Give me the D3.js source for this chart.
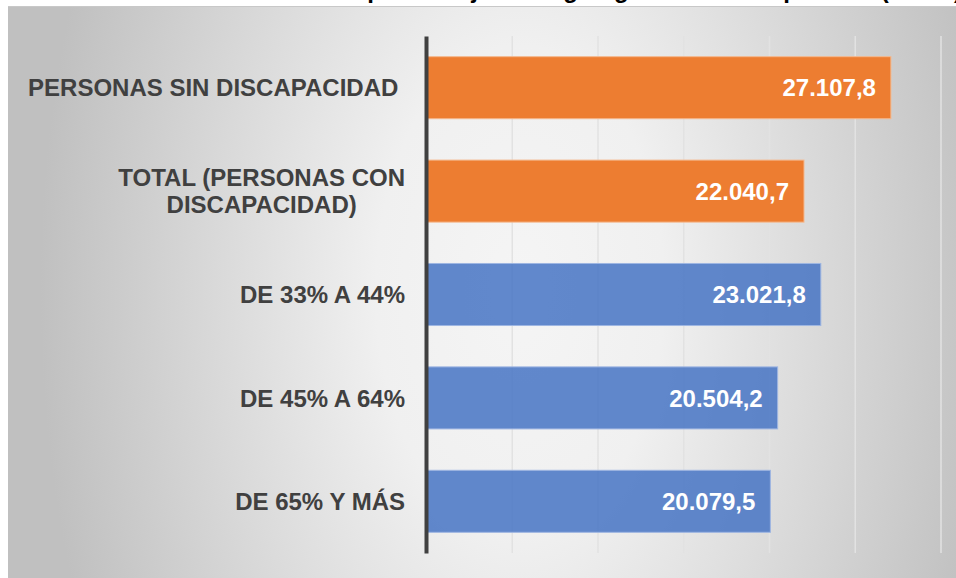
<!DOCTYPE html>
<html>
<head>
<meta charset="utf-8">
<script src="https://cdn.jsdelivr.net/npm/d3@7"></script>
<style>
  body { margin: 0; background: #fff; }
  svg { display: block; font-family: "Liberation Sans", Arial, sans-serif; }
</style>
</head>
<body>
<script>
const categories = ['PERSONAS SIN DISCAPACIDAD ', 'TOTAL (PERSONAS CON DISCAPACIDAD)',
                    'DE 33% A 44%', 'DE 45% A 64%', 'DE 65% Y MÁS'];
const labelLines = [['PERSONAS SIN DISCAPACIDAD '], ['TOTAL (PERSONAS CON', 'DISCAPACIDAD)'],
                    ['DE 33% A 44%'], ['DE 45% A 64%'], ['DE 65% Y MÁS']];
const values = [27107.8, 22040.7, 23021.8, 20504.2, 20079.5];
const groups = ['resumen', 'resumen', 'grado', 'grado', 'grado'];
const xTicks = [5000, 10000, 15000, 20000, 25000, 30000];
const title = 'Ganancia media anual por trabajador según grado de discapacidad (euros)';

const WIDTH = 956, HEIGHT = 578;
const TOP = 36, BOTTOM = 553, LEFT = 426, RIGHT = 940.5;

const es = d3.formatLocale({decimal: ',', thousands: '.', grouping: [3], currency: ['', ' €']});
const fmt = es.format(',.1f');

const svg = d3.select('body').append('svg')
    .attr('width', WIDTH)
    .attr('height', HEIGHT);

const defs = svg.append('defs');
const bg = defs.append('radialGradient')
    .attr('id', 'bg')
    .attr('gradientUnits', 'userSpaceOnUse')
    .attr('cx', 520).attr('cy', 290).attr('r', 480)
    .attr('gradientTransform', 'translate(520,290) scale(1,1.7) translate(-520,-290)');
bg.append('stop').attr('offset', 0).attr('stop-color', '#f5f5f5');
bg.append('stop').attr('offset', 0.3).attr('stop-color', '#f0f0f0');
bg.append('stop').attr('offset', 1).attr('stop-color', '#c0c0c0');

const gridGrad = defs.append('linearGradient')
    .attr('id', 'gridGrad')
    .attr('gradientUnits', 'userSpaceOnUse')
    .attr('x1', 0).attr('y1', TOP).attr('x2', 0).attr('y2', BOTTOM);
gridGrad.append('stop').attr('offset', 0).attr('stop-color', '#e2e2e2');
gridGrad.append('stop').attr('offset', 1).attr('stop-color', '#8e8e8e');

// title: only the bottom of it is inside the picture
svg.append('text')
    .attr('x', 962).attr('y', -2)
    .attr('text-anchor', 'end')
    .attr('font-size', 24).attr('font-weight', 'bold')
    .attr('fill', '#000')
    .text(title);

// chart panel
svg.append('rect')
    .attr('x', 8).attr('y', 6)
    .attr('width', WIDTH - 8).attr('height', HEIGHT - 6)
    .attr('fill', 'url(#bg)');
svg.append('line')
    .attr('x1', 8).attr('x2', WIDTH).attr('y1', 6.5).attr('y2', 6.5)
    .attr('stroke', '#c8c8c8').attr('stroke-width', 1);

const xScale = d3.scaleLinear()
    .domain([0, 30000])
    .range([LEFT, RIGHT]);

const yScale = d3.scaleBand()
    .domain(categories)
    .range([TOP, BOTTOM])
    .paddingInner(0.4)
    .paddingOuter(0.2);

// gridlines
const grid = svg.append('g')
    .attr('transform', 'translate(0,' + BOTTOM + ')')
    .call(d3.axisBottom(xScale).tickValues(xTicks).tickSize(-(BOTTOM - TOP)).tickFormat(''));
grid.select('.domain').remove();
grid.selectAll('.tick line')
    .attr('stroke', 'url(#gridGrad)')
    .attr('stroke-width', 1.5);

// bars
svg.append('g').selectAll('rect')
    .data(values)
    .enter()
    .append('rect')
    .attr('x', xScale(0))
    .attr('y', (d, i) => yScale(categories[i]))
    .attr('width', d => xScale(d) - xScale(0))
    .attr('height', yScale.bandwidth())
    .attr('fill', (d, i) => groups[i] === 'resumen' ? '#ed7d31' : '#4472c4')
    .attr('fill-opacity', (d, i) => groups[i] === 'resumen' ? 1 : 0.84)
    .attr('stroke', (d, i) => groups[i] === 'resumen' ? '#f5b88d' : '#9fb6e2')
    .attr('stroke-width', 1);

// value labels
svg.append('g').selectAll('text')
    .data(values)
    .enter()
    .append('text')
    .attr('x', d => xScale(d) - 15)
    .attr('y', (d, i) => yScale(categories[i]) + yScale.bandwidth() / 2)
    .attr('dy', '0.36em')
    .attr('text-anchor', 'end')
    .attr('font-size', 24).attr('font-weight', 'bold')
    .attr('fill', '#fff')
    .text(d => fmt(d));

// category axis
const yAxisG = svg.append('g')
    .attr('transform', 'translate(' + LEFT + ',0)')
    .call(d3.axisLeft(yScale).tickSize(0).tickFormat(''));
yAxisG.select('.domain')
    .attr('stroke', '#404040')
    .attr('stroke-width', 4);

// category labels: block right-aligned, lines centred inside it
const LABEL_RIGHT = 405, LINE_H = 27.5;
labelLines.forEach(function (lines, i) {
    const cy = yScale(categories[i]) + yScale.bandwidth() / 2;
    const t = svg.append('text')
        .attr('font-size', 24).attr('font-weight', 'bold')
        .attr('fill', '#404040')
        .attr('text-anchor', 'middle')
        .style('white-space', 'pre');
    const spans = lines.map(function (s, j) {
        return t.append('tspan')
            .attr('y', cy + (j - (lines.length - 1) / 2) * LINE_H)
            .attr('dy', '0.36em')
            .text(s);
    });
    const w = d3.max(spans, s => s.node().getComputedTextLength());
    spans.forEach(s => s.attr('x', LABEL_RIGHT - w / 2));
});
</script>
</body>
</html>
